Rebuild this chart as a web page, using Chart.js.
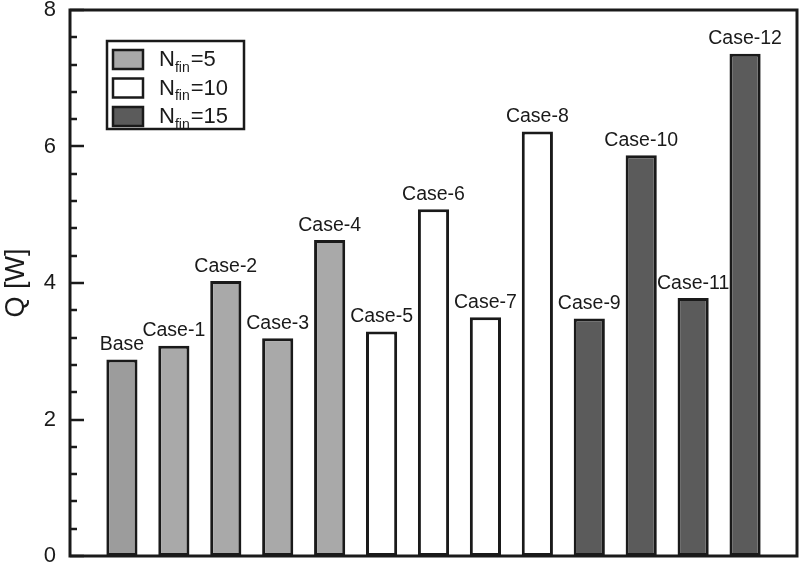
<!DOCTYPE html>
<html>
<head>
<meta charset="utf-8">
<script src="https://cdn.jsdelivr.net/npm/chart.js@4"></script>
<style>
  html, body { margin: 0; padding: 0; background: #fff; }
  #wrap { width: 800px; height: 568px; }
</style>
</head>
<body>
<div id="wrap"><canvas id="chart" width="800" height="568"></canvas></div>
<script>
// Heat transfer per case, grouped by number of fins
const categories = ["Base", "Case-1", "Case-2", "Case-3", "Case-4", "Case-5", "Case-6",
  "Case-7", "Case-8", "Case-9", "Case-10", "Case-11", "Case-12"];
const qValues = [2.88, 3.08, 4.03, 3.19, 4.63, 3.29, 5.08, 3.50, 6.22, 3.48, 5.87, 3.78, 7.36];
const finCount = [5, 5, 5, 5, 5, 10, 10, 10, 10, 15, 15, 15, 15];
const finGroups = [5, 10, 15];
const groupColors = ["#a9a9a9", "#ffffff", "#5b5b5b"];
const yTicks = [0, 2, 4, 6, 8];

const FONT = "'Liberation Sans', Arial, Helvetica, sans-serif";
const INK = "#1a1a1a";

// empty slot at each end so the bars sit one spacing in from the frame
const labels = ["", ...categories, ""];

const datasets = finGroups.map((n, g) => ({
  label: "N_fin=" + n,
  fin: n,
  data: [null, ...qValues.map((v, i) => (finCount[i] === n ? v : null)), null],
  backgroundColor: labels.map((l) => (l === "Base" ? "#9c9c9c" : groupColors[g])),
  borderColor: INK,
  borderWidth: 3,
  borderSkipped: false,
  skipNull: true,
  barPercentage: 0.6,
  categoryPercentage: 1,
}));

// frame plus inward ticks on the y axis
const framePlugin = {
  id: "frame",
  afterDatasetsDraw(chart) {
    const { ctx, chartArea: a, scales } = chart;
    const y = scales.y;
    ctx.save();
    ctx.strokeStyle = INK;
    ctx.lineWidth = 3;
    ctx.strokeRect(a.left, a.top, a.right - a.left, a.bottom - a.top);
    ctx.lineWidth = 2.5;
    for (let v = 0; v <= 8.001; v += 0.4) {
      const major = Math.abs(v / 2 - Math.round(v / 2)) < 1e-6;
      const py = Math.round(y.getPixelForValue(v));
      ctx.beginPath();
      ctx.moveTo(a.left, py);
      ctx.lineTo(a.left + (major ? 14 : 7), py);
      ctx.stroke();
    }
    ctx.restore();
  },
};

// case names above each bar
const barLabelPlugin = {
  id: "barLabels",
  afterDatasetsDraw(chart) {
    const { ctx } = chart;
    ctx.save();
    ctx.font = "19.5px " + FONT;
    ctx.fillStyle = INK;
    ctx.textAlign = "center";
    ctx.textBaseline = "bottom";
    chart.data.datasets.forEach((ds, di) => {
      chart.getDatasetMeta(di).data.forEach((el, i) => {
        if (ds.data[i] == null) return;
        ctx.fillText(labels[i], el.x, el.y - 5);
      });
    });
    ctx.restore();
  },
};

// legend box with subscript text
const legendPlugin = {
  id: "finLegend",
  afterDraw(chart) {
    const { ctx } = chart;
    const x0 = 107, y0 = 41, w = 137, h = 88;
    ctx.save();
    ctx.fillStyle = "#fff";
    ctx.fillRect(x0, y0, w, h);
    ctx.strokeStyle = INK;
    ctx.lineWidth = 2.5;
    ctx.strokeRect(x0, y0, w, h);
    chart.data.datasets.forEach((ds, i) => {
      const cy = y0 + 18 + i * 28.5;
      ctx.fillStyle = groupColors[i];
      ctx.fillRect(113, cy - 9, 30, 19);
      ctx.lineWidth = 2.5;
      ctx.strokeRect(113, cy - 9, 30, 19);
      ctx.fillStyle = INK;
      ctx.textBaseline = "middle";
      ctx.textAlign = "left";
      ctx.font = "22px " + FONT;
      let tx = 159;
      ctx.fillText("N", tx, cy + 1);
      tx += ctx.measureText("N").width;
      ctx.font = "14px " + FONT;
      ctx.fillText("fin", tx, cy + 9);
      tx += ctx.measureText("fin").width + 1;
      ctx.font = "22px " + FONT;
      ctx.fillText("=" + ds.fin, tx, cy + 1);
    });
    ctx.restore();
  },
};

new Chart(document.getElementById("chart"), {
  type: "bar",
  data: { labels: labels, datasets: datasets },
  options: {
    responsive: false,
    animation: false,
    layout: { padding: { top: 10, right: 3, bottom: 12, left: 0 } },
    plugins: {
      legend: { display: false },
      tooltip: { enabled: false },
    },
    scales: {
      x: {
        offset: false,
        grid: { display: false, drawTicks: false },
        border: { display: false },
        ticks: { display: false },
        afterFit(scale) {
          scale.height = 0;
          scale.paddingLeft = 0;
          scale.paddingRight = 0;
        },
      },
      y: {
        min: 0,
        max: 8,
        afterBuildTicks(scale) {
          scale.ticks = yTicks.map((v) => ({ value: v }));
        },
        afterFit(scale) {
          scale.width = 70;
          scale.paddingTop = 0;
          scale.paddingBottom = 0;
        },
        grid: { display: false, drawTicks: false },
        border: { display: false },
        ticks: {
          padding: 14,
          color: INK,
          font: { family: FONT, size: 22 },
        },
        title: {
          display: true,
          text: "Q [W]",
          color: INK,
          font: { family: FONT, size: 27 },
          padding: { top: 0, bottom: 0 },
        },
      },
    },
  },
  plugins: [framePlugin, barLabelPlugin, legendPlugin],
});
</script>
</body>
</html>
